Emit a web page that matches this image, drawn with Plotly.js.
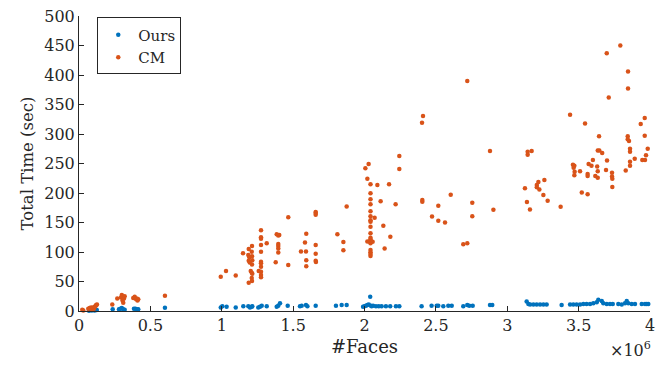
<!DOCTYPE html>
<html>
<head>
<meta charset="utf-8">
<script src="https://cdn.plot.ly/plotly-3.0.1.min.js"></script>
<style>html,body{margin:0;padding:0;background:#fff}#chart{width:667px;height:367px}</style>
</head>
<body>
<div id="chart"></div>
<script>
// #Faces in millions (axis shows x10^6)
const oursX = [0.07,0.09,0.11,0.125,0.236,0.28,0.29,0.30,0.31,0.32,0.385,0.395,0.405,0.415,0.602,
  0.993,1.004,1.034,1.098,1.151,1.186,1.198,1.21,1.214,1.256,1.268,1.28,1.315,1.385,1.396,1.408,1.462,1.548,1.56,1.59,1.6,1.658,1.80,1.84,1.875,
  1.99,2.0,2.01,2.02,2.03,2.04,2.045,2.05,2.06,2.08,2.1,2.12,2.15,2.18,2.22,2.244,
  2.40,2.47,2.506,2.517,2.552,2.587,2.611,2.692,2.72,2.734,2.758,2.879,2.895,
  3.136,3.148,3.16,3.183,3.206,3.23,3.253,3.276,3.381,3.44,3.463,3.486,3.51,3.533,3.556,3.58,3.603,3.627,3.638,3.662,3.673,3.697,3.72,3.739,3.778,3.802,3.825,3.837,3.848,3.872,3.895,3.942,3.965,3.977,3.988];
const oursY = [0.5,0.8,1,1.5,3,3,4,5,3,2,4,4,3,3,5.6,
  6,8,7,6,8,8,6,7,8,6,7,9,8,7,9,13,9,8,9,10,8,9,9,10,10,
  7,8,9,10,11,24,9,8,9,8,8,8,8,8,8,8,
  8,9,9,9,8,9,9,8,10,9,9,10,10,
  16,12,11,11,11,11,11,11,10,11,11,11,11,12,12,12,13,15,19,17,13,12,12,12,12,11,13,17,13,12,12,12,12,12,12];

const cmX = [0.023,0.03,0.065,0.075,0.085,0.09,0.1,0.105,0.11,0.115,0.12,0.126,0.233,0.268,0.294,0.30,0.305,0.31,0.315,0.32,0.38,0.39,0.40,0.405,0.41,0.415,0.602,
  0.993,1.03,1.098,1.149,
  1.189,1.212,1.186,1.210,1.193,1.212,1.189,1.214,1.196,1.212,1.203,1.21,1.214,1.21,1.212,1.189,
  1.275,1.275,1.275,1.275,1.275,1.275,1.275,1.275,1.275,1.275,1.275,1.259,1.315,
  1.385,1.403,1.396,1.396,1.396,1.396,1.396,1.378,1.466,1.466,
  1.555,1.583,1.592,1.59,1.592,1.592,1.658,1.658,1.658,1.658,1.658,1.658,1.66,
  1.81,1.852,1.852,1.875,
  2.006,2.029,2.02,
  2.042,2.042,2.042,2.042,2.042,2.042,2.042,2.042,2.042,2.042,2.042,2.042,2.042,2.042,2.042,2.042,2.042,2.042,
  2.02,2.057,2.09,2.172,2.113,2.071,2.132,2.181,2.141,2.218,2.244,2.244,
  2.403,2.41,2.405,2.405,2.473,2.517,2.517,2.564,2.604,2.72,2.692,2.72,2.755,2.755,2.879,2.903,
  3.124,3.138,3.159,3.143,3.143,3.171,3.207,3.207,3.218,3.225,3.26,3.253,3.283,3.374,
  3.44,3.46,3.47,3.465,3.472,3.47,3.51,3.522,3.545,3.563,3.563,3.563,3.57,3.59,3.60,3.617,3.63,3.634,3.634,3.634,3.645,3.665,3.643,
  3.697,3.711,3.699,3.692,3.734,3.734,3.736,3.736,3.792,3.846,3.846,3.844,3.853,3.844,3.86,3.86,3.86,3.86,3.893,3.83,
  3.935,3.963,3.963,3.984,3.972,3.946,3.965];
const cmY = [2,1,4,5,6,3,6,4,7,8,10,11,11,21,23,27,18,14,21,25,22,24,20,21,18,20,26,
  58,68,60,98,
  105,110,95,100.6,91,93,85,86,82,79,68,65,63,56,51,48,
  137,125,122.5,112,100.6,83.6,81,75,66.7,61,57,68,115,
  130,129,128,113.6,110,106,99,82.5,78,159,
  101,116,131,101,86,76,168,166,163,112,97,85,83,
  130,117,103,177,
  242,249,224,
  214.7,199.4,189.3,180.8,169,160.5,154,151.4,143,131.6,124.3,121.5,117.5,114.7,103.4,99.5,96.6,93.2,
  118,117.5,213.6,215,186,158,144.6,126,106,181,262.7,240.7,
  319,330.5,188,185,160,178.5,153,150,197,390,113,115,183.6,160.5,271,171.7,
  208,184.7,172,270,265,271,213.6,209.6,218.6,206,222,196.6,187,176.8,
  332.7,248,246,243,236,230,237,201,318,198,232,229,249,246,256,229,245,237,226,272,272,268,296,
  437,362,255,239,234.5,228,224,210,450,406,377,296,288,291,275,270,253,246,258,238,
  317,327,297,275,264,256,256];

const xTicks = [0,0.5,1,1.5,2,2.5,3,3.5,4];
const xTickText = ['0','0.5','1','1.5','2','2.5','3','3.5','4'];
const yTicks = [0,50,100,150,200,250,300,350,400,450,500];

const FONT = 'DejaVu Serif';
const INK = '#262626';

const traces = [
  {x: oursX, y: oursY, name: 'Ours', type: 'scatter', mode: 'markers',
   marker: {color: '#0072BD', size: 4.5}, cliponaxis: false},
  {x: cmX, y: cmY, name: 'CM', type: 'scatter', mode: 'markers',
   marker: {color: '#D95319', size: 4.5}, cliponaxis: false}
];

const layout = {
  width: 667, height: 367,
  margin: {l: 79, r: 17, t: 16, b: 56},
  paper_bgcolor: '#fff', plot_bgcolor: '#fff',
  font: {family: FONT, size: 16, color: INK},
  showlegend: true,
  legend: {x: 0.032, y: 0.995, xanchor: 'left', yanchor: 'top',
    bordercolor: '#262626', borderwidth: 1, bgcolor: '#fff',
    font: {size: 15}, tracegroupgap: 0, itemwidth: 30},
  xaxis: {range: [0, 4], tickvals: xTicks, ticktext: xTickText,
    showgrid: false, zeroline: false, showline: true, linecolor: INK, linewidth: 1,
    ticks: 'inside', ticklen: 5, tickcolor: INK, mirror: false,
    tickfont: {size: 16},
    title: {text: '#Faces', font: {size: 18}, standoff: 6}},
  yaxis: {range: [0, 500], tickvals: yTicks,
    showgrid: false, zeroline: false, showline: true, linecolor: INK, linewidth: 1,
    ticks: 'inside', ticklen: 5, tickcolor: INK, mirror: false,
    tickfont: {size: 16},
    title: {text: 'Total Time (sec)', font: {size: 16.5}, standoff: 6}},
  annotations: [{xref: 'paper', yref: 'paper', x: 1.005, y: -0.088, xanchor: 'right', yanchor: 'top',
    text: '×10<sup>6</sup>', showarrow: false, font: {size: 16}}]
};

Plotly.newPlot('chart', traces, layout, {displayModeBar: false, staticPlot: true});
</script>
</body>
</html>
